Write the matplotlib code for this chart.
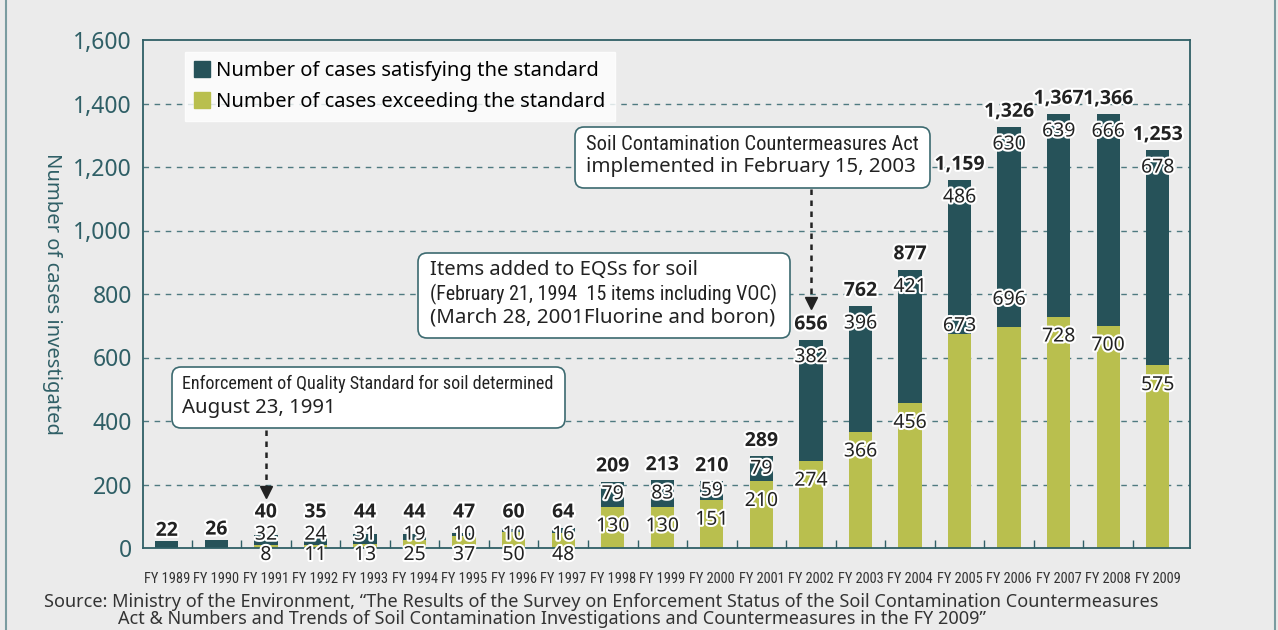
import numpy as np
import matplotlib
matplotlib.use('Agg')
import matplotlib.pyplot as plt
import matplotlib.patheffects as pe
from matplotlib import font_manager as fm
from matplotlib.patches import FancyBboxPatch, Patch
from matplotlib.lines import Line2D
from matplotlib.transforms import IdentityTransform

plt.rcParams['font.family'] = ['Noto Sans', 'DejaVu Sans']

# data
years = [1989, 1990, 1991, 1992, 1993, 1994, 1995, 1996, 1997, 1998, 1999,
         2000, 2001, 2002, 2003, 2004, 2005, 2006, 2007, 2008, 2009]
satisfying = [22, 26, 32, 24, 31, 19, 10, 10, 16, 79, 83,
              59, 79, 382, 396, 421, 486, 630, 639, 666, 678]
exceeding = [0, 0, 8, 11, 13, 25, 37, 50, 48, 130, 130,
             151, 210, 274, 366, 456, 673, 696, 728, 700, 575]
totals = [22, 26, 40, 35, 44, 44, 47, 60, 64, 209, 213,
          210, 289, 656, 762, 877, 1159, 1326, 1367, 1366, 1253]
tick_labels = ['FY %d' % y for y in years]
yticks = [0, 200, 400, 600, 800, 1000, 1200, 1400, 1600]

DARK = '#265259'
OLIVE = '#b9bf4e'
TEAL = '#2f5f66'
BG = '#ebebeb'
TXT = '#222222'


def pick_font(cands, key):
    for fam, kw in cands:
        try:
            path = fm.findfont(fm.FontProperties(family=fam, **kw), fallback_to_default=False)
        except ValueError:
            continue
        if any(k in path.lower() for k in key):
            return fam, kw
    return None


narrow = pick_font([('Liberation Sans Narrow', {}), ('Roboto Condensed', {}),
                    ('Open Sans Condensed', {}), ('Noto Sans', {'stretch': 'condensed'}),
                    ('DejaVu Sans', {'stretch': 'condensed'}),
                    ('Roboto', {'stretch': 'condensed'})], ['narrow', 'condensed']) \
    or ('Noto Sans', {})
bold = pick_font([('Noto Sans', {'weight': 'bold'}), ('Open Sans', {'weight': 'bold'}),
                  ('Lato', {'weight': 'bold'}), ('Roboto', {'weight': 'bold'}),
                  ('DejaVu Sans', {'weight': 'bold'})], ['bold']) or ('DejaVu Sans', {})
NARROW = dict(family=narrow[0], fontstretch=narrow[1].get('stretch', 'normal'))

W, H = 1278, 630
fig = plt.figure(figsize=(W / 100, H / 100), dpi=100, facecolor=BG)
ax = fig.add_axes([143 / W, 1 - 548 / H, (1190 - 143) / W, (548 - 40) / H])
ax.set_facecolor(BG)
renderer = fig.canvas.get_renderer()


def fit(t, target):
    # scale font size so the text spans target pixels
    w = t.get_window_extent(renderer).width
    t.set_fontsize(t.get_fontsize() * target / w)
    return t.get_fontsize()


x = np.arange(len(years))
ax.bar(x, exceeding, width=0.47, color=OLIVE, zorder=2)
ax.bar(x, satisfying, width=0.47, bottom=exceeding, color=DARK, zorder=2)

ax.set_xlim(-0.48, 20.65)
ax.set_ylim(0, 1600)
ax.set_yticks(yticks)
ax.set_yticklabels(['{:,}'.format(v) for v in yticks], color=TEAL, fontsize=16.5)
ax.tick_params(axis='y', length=0, pad=8)
ax.set_xticks(x)
xt = ax.set_xticklabels(tick_labels, fontsize=9, color='#333333', **NARROW)
fs = fit(xt[0], 46)
for t in xt:
    t.set_fontsize(fs)
ax.tick_params(axis='x', which='major', length=0, pad=17)
ax.set_xticks(x[:-1] + 0.5, minor=True)
ax.tick_params(axis='x', which='minor', direction='in', length=6, color=TEAL, width=1)
for s in ax.spines.values():
    s.set_color(TEAL)
    s.set_linewidth(1.3)
for v in yticks[1:-1]:
    ax.axhline(v, color='#4f7a80', lw=1, ls=(0, (4, 4)), zorder=1)

ax.set_ylabel('Number of cases investigated', rotation=-90, color=TEAL, fontsize=14.5)
ax.yaxis.set_label_coords(-0.096, 0.5)

LBL = 14
stroke = [pe.withStroke(linewidth=3, foreground='white')]
bold_kw = dict(family=bold[0], fontweight='bold')
exc_nudge = {2005: 88, 2006: 148}
for i, yr in enumerate(years):
    t, s, e = totals[i], satisfying[i], exceeding[i]
    if e == 0:
        ax.text(i, t + 32, str(t), ha='center', va='center', fontsize=LBL,
                color=TXT, path_effects=stroke, zorder=5, **bold_kw)
    elif t < 100:
        ax.text(i, 112, str(t), ha='center', va='center', fontsize=LBL,
                color=TXT, path_effects=stroke, zorder=5, **bold_kw)
        ax.text(i, 42, str(s), ha='center', va='center', fontsize=LBL,
                color=TXT, path_effects=stroke, zorder=5)
        ax.text(i, -22, str(e), ha='center', va='center', fontsize=LBL,
                color=TXT, path_effects=stroke, zorder=5, clip_on=False)
    else:
        ax.text(i, t + 48, '{:,}'.format(t), ha='center', va='center', fontsize=LBL,
                color=TXT, path_effects=stroke, zorder=5, **bold_kw)
        ax.text(i, t - min(55, s / 2), str(s), ha='center', va='center', fontsize=LBL,
                color=TXT, path_effects=stroke, zorder=5)
        ye = e - min(62, e / 2) + exc_nudge.get(yr, 0)
        ax.text(i, ye, str(e), ha='center', va='center', fontsize=LBL,
                color=TXT, path_effects=stroke, zorder=5)

# legend
handles = [Patch(color=DARK, label='Number of cases satisfying the standard'),
           Patch(color=OLIVE, label='Number of cases exceeding the standard')]
leg = fig.legend(handles=handles, loc='upper left', bbox_to_anchor=(185 / W, 1 - 52 / H),
                 frameon=True, fancybox=False, fontsize=14.5, handlelength=0.8,
                 handleheight=0.8, handletextpad=0.3, labelspacing=0.55,
                 borderpad=0.45, borderaxespad=0)
leg.get_frame().set_facecolor('white')
leg.get_frame().set_edgecolor('white')
leg.set_zorder(6)


def note_box(x0, y0, x1, y1):
    # pixel box, origin top-left
    p = FancyBboxPatch((x0, H - y1), x1 - x0, y1 - y0,
                       boxstyle='round,pad=0,rounding_size=9',
                       transform=IdentityTransform(), fc='white', ec='#3c6a70',
                       lw=1.2, zorder=7)
    fig.patches.append(p)


def note_text(px, py, s, width, is_narrow=False):
    kw = NARROW if is_narrow else {}
    t = fig.text(px / W, 1 - py / H, s, fontsize=13, color=TXT, va='center',
                 ha='left', zorder=8, **kw)
    fit(t, width)


note_box(172, 367, 565, 428)
note_text(182, 384, 'Enforcement of Quality Standard for soil determined', 371, True)
note_text(182, 408, 'August 23, 1991', 154)

note_box(418, 253, 790, 338)
note_text(430, 270, 'Items added to EQSs for soil', 269)
note_text(430, 294, '(February 21, 1994  15 items including VOC)', 345, True)
note_text(430, 317, '(March 28, 2001Fluorine and boron)', 346)

note_box(575, 127, 930, 188)
note_text(586, 144, 'Soil Contamination Countermeasures Act', 329, True)
note_text(586, 167, 'implemented in February 15, 2003', 330)

# dotted arrows
for xi, ytop, ytip in [(2, 372, 175), (13, 1130, 772)]:
    ax.plot([xi, xi], [ytop, ytip], color=TXT, lw=1.8, ls=(0, (2.2, 2.2)), zorder=4)
    ax.plot([xi], [ytip], marker='v', color=TXT, markersize=9, zorder=4)

# source
src1 = fig.text(44 / W, 1 - 602 / H,
                'Source: Ministry of the Environment, \u201cThe Results of the Survey on Enforcement Status of the Soil Contamination Countermeasures',
                fontsize=12, color='#333333', va='center', ha='left')
sfs = fit(src1, 1109)
fig.text(118 / W, 1 - 619 / H,
         'Act & Numbers and Trends of Soil Contamination Investigations and Countermeasures in the FY 2009\u201d',
         fontsize=sfs, color='#333333', va='center', ha='left')

# outer frame lines
fig.add_artist(Line2D([6 / W, 6 / W], [0, 1], color='#7a9ca0', lw=1.5))
fig.add_artist(Line2D([1275 / W, 1275 / W], [0, 1], color='#7a9ca0', lw=1.5))

fig.savefig('out.png', dpi=100, facecolor=BG)
